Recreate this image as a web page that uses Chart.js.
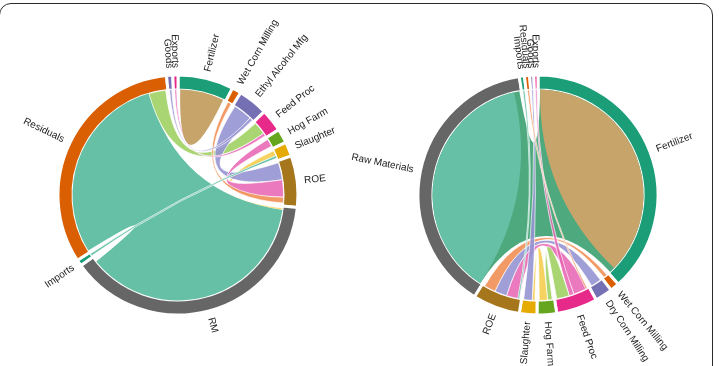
<!DOCTYPE html>
<html>
<head>
<meta charset="utf-8">
<script src="https://cdn.jsdelivr.net/npm/chart.js@4.4.0/dist/chart.umd.min.js"></script>
<style>
  html, body { margin: 0; padding: 0; background: #fff; }
  #wrap { position: relative; width: 719px; height: 366px; overflow: hidden; background: #fff; }
  #frame { position: absolute; left: -1px; top: 3px; width: 714px; height: 430px; border: 1.5px solid #2b2b2b; border-radius: 12px; box-sizing: border-box; }
  canvas { position: absolute; left: 0; top: 0; }
</style>
</head>
<body>
<div id="wrap">
  <div id="frame"></div>
  <canvas id="leftChord" width="719" height="366"></canvas>
  <canvas id="rightChord" width="719" height="366"></canvas>
</div>
<script>
// groups round each circle, clockwise from 12 o'clock
const leftGroups = ['Fertilizer', 'Wet Corn Milling', 'Ethyl Alcohol Mfg', 'Feed Proc', 'Hog Farm', 'Slaughter', 'ROE', 'RM', 'Imports', 'Residuals', 'Goods', 'Exports'];
const leftTotals = [27, 4.5, 14.5, 11, 7, 7, 25, 138, 3, 117.5, 3, 2.5];

const rightGroups = ['Fertilizer', 'Wet Corn Milling', 'Dry Corn Milling', 'Feed Proc', 'Hog Farm', 'Slaughter', 'ROE', 'Raw Materials', 'Imports', 'Residuals', 'Goods', 'Exports'];
const rightTotals = [138, 4.5, 8.5, 20, 9.5, 8.5, 23, 139, 2.5, 2.5, 2, 2];

// links: from / to group, amount at each end, drawing layer, tint
const leftFrom  = ['Slaughter', 'RM', 'Residuals', 'Ethyl Alcohol Mfg', 'ROE', 'Wet Corn Milling', 'Imports', 'Exports', 'Goods', 'Fertilizer'];
const leftTo    = ['RM', 'Residuals', 'Feed Proc', 'ROE', 'Hog Farm', 'ROE', 'Slaughter', 'Feed Proc', 'Ethyl Alcohol Mfg', 'Fertilizer'];
const leftOut   = [4.5, 135, 9.5, 12.5, 10.5, 4.5, 3, 2.5, 3, 26.5];
const leftIn    = [1, 108, 9, 10.5, 6.5, 3.5, 2, 2, 2, 26.5];
const leftLayer = [0, 0, 0, 0, 0, 0, 0, 0, 0, 1];
const leftTint  = ['yellow', 'teal', 'green', 'lavender', 'pink', 'orange', 'teal', 'pink', 'lavender', 'tan'];

const rightFrom  = ['Fertilizer', 'Fertilizer', 'Raw Materials', 'ROE', 'ROE', 'ROE', 'Feed Proc', 'Hog Farm', 'Hog Farm', 'Slaughter', 'Imports', 'Residuals'];
const rightTo    = ['Raw Materials', 'Fertilizer', 'Raw Materials', 'Feed Proc', 'Dry Corn Milling', 'Wet Corn Milling', 'Exports', 'Feed Proc', 'Slaughter', 'Goods', 'ROE', 'Feed Proc'];
const rightOut   = [138, 135, 136, 8, 7.5, 7, 3, 3.5, 6, 6.5, 2.5, 2.5];
const rightIn    = [139, 135, 136, 9, 8, 4.5, 2, 8, 2, 2, 1, 1];
const rightLayer = [0, 1, 1, 2, 2, 2, 2, 2, 2, 2, 3, 3];
const rightTint  = ['darkgreen', 'tan', 'teal', 'pink', 'lavender', 'orange', 'pink', 'green', 'yellow', 'lavender', 'teal', 'orange'];

const dark2 = ['#1b9e77', '#d95f02', '#7570b3', '#e7298a', '#66a61e', '#e6ab02', '#a6761d', '#666666'];
const tints = {
  teal: 'rgb(102,192,165)',
  tan: 'rgb(199,164,106)',
  darkgreen: 'rgb(78,170,126)',
  lavender: 'rgba(150,148,210,0.9)',
  pink: 'rgba(232,98,178,0.85)',
  orange: 'rgba(240,140,80,0.88)',
  green: 'rgba(160,208,100,0.9)',
  yellow: 'rgba(245,205,80,0.9)'
};

function ribbon(ctx, cx, cy, r, s0, s1, t0, t1, self) {
  ctx.beginPath();
  ctx.moveTo(cx + r * Math.cos(s0), cy + r * Math.sin(s0));
  ctx.arc(cx, cy, r, s0, s1);
  if (!self) {
    ctx.quadraticCurveTo(cx, cy, cx + r * Math.cos(t0), cy + r * Math.sin(t0));
    ctx.arc(cx, cy, r, t0, t1);
  }
  ctx.quadraticCurveTo(cx, cy, cx + r * Math.cos(s0), cy + r * Math.sin(s0));
  ctx.closePath();
}

const chordPlugin = {
  id: 'chords',
  afterDatasetsDraw(chart) {
    const ctx = chart.ctx;
    const links = chart.options.plugins.chords;
    const groups = chart.data.labels;
    const totals = chart.data.datasets[0].data;
    const arcs = chart.getDatasetMeta(0).data;
    const cx = arcs[0].x, cy = arcs[0].y;
    const r = arcs[0].innerRadius + 0.5;
    const span = i => {
      const w = arcs[i].endAngle - arcs[i].startAngle;
      const pad = Math.min(2.2 / r, w * 0.3);
      return [arcs[i].startAngle + pad, arcs[i].endAngle - pad];
    };
    const cursor = {};
    const take = (layer, g, amount) => {
      const key = layer + ':' + g;
      const i = groups.indexOf(g);
      const c = cursor[key] || 0;
      cursor[key] = c + amount;
      const [a0, a1] = span(i);
      const k = (a1 - a0) / totals[i];
      return [a0 + c * k, a0 + Math.min(c + amount, totals[i]) * k];
    };
    const order = links.from.map((_, i) => i).sort((a, b) => links.layer[a] - links.layer[b] || a - b);
    const shapes = [];
    links.from.forEach((f, i) => {
      const t = links.to[i];
      const s = take(links.layer[i], f, links.out[i]);
      const d = f === t ? s : take(links.layer[i], t, links.in[i]);
      shapes[i] = { s, d, self: f === t };
    });
    ctx.save();
    ctx.lineWidth = 0.8;
    ctx.strokeStyle = 'rgba(255,255,255,0.85)';
    order.forEach(i => {
      const { s, d, self } = shapes[i];
      ribbon(ctx, cx, cy, r, s[0], s[1], d[0], d[1], self);
      ctx.fillStyle = tints[links.tint[i]];
      ctx.fill();
      // only the narrow ribbons get a white edge
      if (Math.max(s[1] - s[0], d[1] - d[0]) < 0.35) ctx.stroke();
    });
    ctx.restore();
  },
  afterDraw(chart) {
    const ctx = chart.ctx;
    const arcs = chart.getDatasetMeta(0).data;
    ctx.save();
    ctx.font = '10px "Liberation Sans", Arial, sans-serif';
    ctx.fillStyle = '#222';
    ctx.textBaseline = 'middle';
    arcs.forEach((el, i) => {
      const mid = (el.startAngle + el.endAngle) / 2;
      const rr = el.outerRadius + 7;
      ctx.save();
      ctx.translate(el.x + rr * Math.cos(mid), el.y + rr * Math.sin(mid));
      const clock = mid + Math.PI / 2;
      if (clock < Math.PI) {
        ctx.rotate(mid);
        ctx.textAlign = 'left';
      } else {
        ctx.rotate(mid + Math.PI);
        ctx.textAlign = 'right';
      }
      ctx.fillText(chart.data.labels[i], 0, 0);
      ctx.restore();
    });
    ctx.restore();
  }
};

function chordChart(id, groups, totals, from, to, out, inn, layer, tint, padLeft, padRight) {
  return new Chart(document.getElementById(id), {
    type: 'doughnut',
    data: {
      labels: groups,
      datasets: [{
        data: totals,
        backgroundColor: totals.map((_, i) => dark2[i % 8]),
        borderColor: '#fff',
        borderWidth: 3
      }]
    },
    options: {
      responsive: false,
      animation: false,
      radius: 120,
      cutout: '87.5%',
      layout: { padding: { left: padLeft, right: padRight, top: 24, bottom: 0 } },
      plugins: {
        legend: { display: false },
        tooltip: { enabled: false },
        chords: { from, to, out, in: inn, layer, tint }
      }
    },
    plugins: [chordPlugin]
  });
}

chordChart('leftChord', leftGroups, leftTotals, leftFrom, leftTo, leftOut, leftIn, leftLayer, leftTint, 0, 363);
chordChart('rightChord', rightGroups, rightTotals, rightFrom, rightTo, rightOut, rightIn, rightLayer, rightTint, 360, 3);
</script>
</body>
</html>
